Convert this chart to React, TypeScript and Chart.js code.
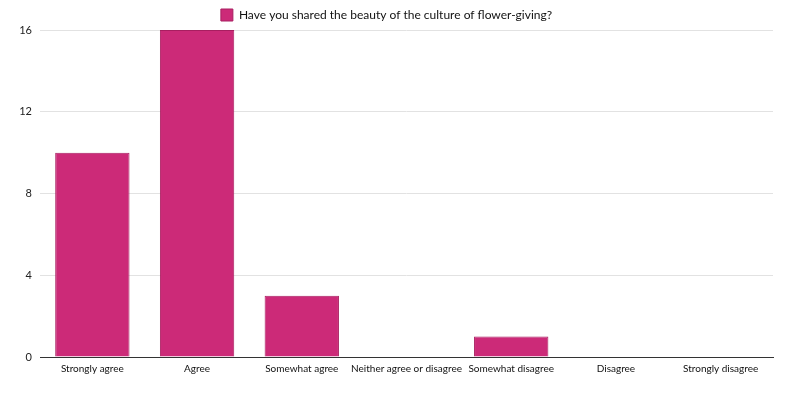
import React, { useEffect, useRef } from "react";
import { Chart, registerables } from "chart.js";

Chart.register(...registerables);

const categories = [
  "Strongly agree",
  "Agree",
  "Somewhat agree",
  "Neither agree or disagree",
  "Somewhat disagree",
  "Disagree",
  "Strongly disagree",
];
const seriesLabel = "Have you shared the beauty of the culture of flower-giving?";
const seriesValues = [10, 16, 3, 0, 1, 0, 0];
const yTicks = [0, 4, 8, 12, 16];

const FONT = "Lato, 'Open Sans', sans-serif";

export default function App() {
  const ref = useRef<HTMLCanvasElement | null>(null);
  useEffect(() => {
    document.body.style.margin = "0";
    const canvas = ref.current;
    if (!canvas) return;
    const chart = new Chart(canvas, {
      type: "bar",
      data: {
        labels: categories,
        datasets: [
          {
            label: seriesLabel,
            data: seriesValues,
            backgroundColor: "#cc2a78",
            borderColor: "#a81e60",
            borderWidth: 1,
            categoryPercentage: 0.71,
            barPercentage: 1,
          },
        ],
      },
      options: {
        responsive: false,
        animation: false,
        layout: { padding: { left: 0, right: 26, top: 0, bottom: 0 } },
        plugins: {
          tooltip: { enabled: false },
          legend: {
            position: "top",
            labels: {
              boxWidth: 12,
              boxHeight: 12,
              padding: 9,
              color: "#111",
              font: { family: FONT, size: 12 },
            },
          },
        },
        scales: {
          x: {
            grid: { display: false, drawTicks: false },
            border: { display: true, color: "#333", width: 1 },
            ticks: {
              color: "#111",
              font: { family: FONT, size: 10 },
              padding: 6,
              maxRotation: 0,
              autoSkip: false,
            },
            afterFit: (s: any) => {
              s.height = 42;
            },
          },
          y: {
            min: 0,
            max: 16,
            afterBuildTicks: (s: any) => {
              s.ticks = yTicks.map((v) => ({ value: v }));
            },
            grid: { color: "#e2e2e2", drawTicks: false },
            border: { display: false },
            ticks: {
              color: "#222",
              font: { family: FONT, size: 11 },
              padding: 8,
            },
            afterFit: (s: any) => {
              s.width = 40;
            },
          },
        },
      },
      plugins: [
        {
          id: "legendFit",
          beforeInit(c: any) {
            const lg = c.legend;
            if (!lg) return;
            const orig = lg.fit;
            lg.fit = function () {
              orig.call(this);
              this.height = 30;
            };
          },
        },
      ],
    });
    return () => chart.destroy();
  }, []);
  return (
    <div style={{ width: 799, height: 399 }}>
      <canvas ref={ref} width={799} height={399} style={{ display: "block" }} />
    </div>
  );
}
